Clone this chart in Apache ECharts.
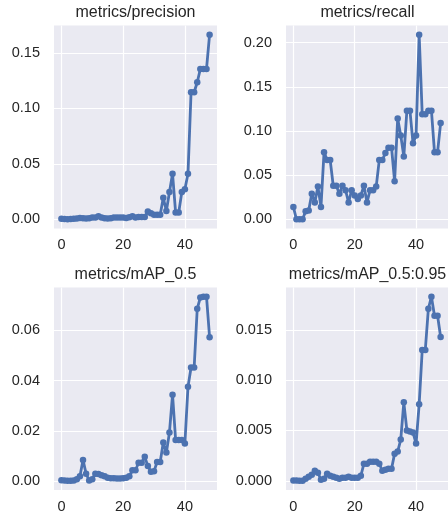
<!DOCTYPE html>
<html><head><meta charset="utf-8">
<script src="https://cdn.jsdelivr.net/npm/echarts@6/dist/echarts.min.js"></script>
<style>html,body{margin:0;padding:0;background:#fff}#c{width:448px;height:516px}</style>
</head><body><div id="c"></div>
<script>
const epochs = [0,1,2,3,4,5,6,7,8,9,10,11,12,13,14,15,16,17,18,19,20,21,22,23,24,25,26,27,28,29,30,31,32,33,34,35,36,37,38,39,40,41,42,43,44,45,46,47,48];
const precision = [0.0005,0.0002,0.0000,0.0002,0.0005,0.0008,0.0012,0.0010,0.0008,0.0010,
  0.0015,0.0015,0.0028,0.0015,0.0010,0.0008,0.0010,0.0015,0.0015,0.0015,
  0.0015,0.0012,0.0018,0.0028,0.0015,0.0020,0.0020,0.0020,0.0070,0.0055,
  0.0040,0.0040,0.0040,0.0194,0.0075,0.0246,0.0410,0.0060,0.0060,0.0246,
  0.0270,0.0410,0.1146,0.1146,0.1236,0.1356,0.1356,0.1356,0.1665];
const recall = [0.014,0.000,0.000,0.000,0.009,0.010,0.029,0.019,0.037,0.014,
  0.076,0.067,0.067,0.038,0.038,0.029,0.038,0.033,0.019,0.033,
  0.027,0.023,0.027,0.038,0.019,0.033,0.033,0.037,0.067,0.067,
  0.075,0.081,0.081,0.043,0.114,0.095,0.071,0.123,0.123,0.086,
  0.095,0.209,0.119,0.119,0.123,0.123,0.076,0.076,0.109];
const map50 = [0.0004,0.0003,0.0002,0.0002,0.0003,0.0008,0.0020,0.0085,0.0030,0.0003,
  0.0008,0.0030,0.0029,0.0024,0.0020,0.0014,0.0012,0.0012,0.0011,0.0011,
  0.0012,0.0014,0.0020,0.0044,0.0044,0.0074,0.0074,0.0097,0.0061,0.0038,
  0.0040,0.0077,0.0077,0.0154,0.0114,0.0194,0.0344,0.0164,0.0164,0.0164,
  0.0150,0.0375,0.0452,0.0452,0.0685,0.0730,0.0733,0.0733,0.0572];
const map5095 = [0.00003,0.00002,0.0000,0.0000,0.0002,0.0004,0.0006,0.0010,0.0008,0.0001,
  0.0002,0.0007,0.0005,0.0004,0.0003,0.0002,0.0003,0.0003,0.0004,0.0003,
  0.0003,0.0003,0.0005,0.0017,0.0017,0.0019,0.0019,0.0019,0.0017,0.0010,
  0.0011,0.0012,0.0012,0.0027,0.0029,0.0041,0.0078,0.0050,0.0049,0.0048,
  0.0037,0.0076,0.0130,0.0130,0.0171,0.0183,0.0164,0.0164,0.0143];
const titles = ['metrics/precision','metrics/recall','metrics/mAP_0.5','metrics/mAP_0.5:0.95'];
const xTicks = [0,20,40];
const yTicks = [[0,0.05,0.10,0.15],[0,0.05,0.10,0.15,0.20],[0,0.02,0.04,0.06],[0,0.005,0.010,0.015]];
const yDecimals = [2,2,2,3];

const series = [precision, recall, map50, map5095];
const grids = [
  {left:54, top:25.5, width:163, height:203},
  {left:286, top:25.5, width:163, height:203},
  {left:54, top:287.5, width:163, height:202.5},
  {left:286, top:287.5, width:163, height:202.5}
];
const FONT = '"Liberation Sans", Arial, sans-serif';
const TXT = '#262626';
const n = epochs.length;
const xMin = epochs[0] - 0.05*(epochs[n-1]-epochs[0]);
const xMax = epochs[n-1] + 0.05*(epochs[n-1]-epochs[0]);

const option = {
  animation:false,
  backgroundColor:'#ffffff',
  title: titles.map((t,i)=>({
    text:t, left: grids[i].left + grids[i].width/2, top: grids[i].top - 21,
    textAlign:'center', padding:0,
    textStyle:{fontFamily:FONT, fontSize:16, fontWeight:'normal', color:TXT}
  })),
  grid: grids.map(g=>Object.assign({show:true, backgroundColor:'#EAEAF2', borderWidth:0, containLabel:false}, g)),
  xAxis: grids.map((g,i)=>({
    type:'value', gridIndex:i, min:xMin, max:xMax,
    axisLine:{show:false}, axisTick:{show:false, customValues:xTicks},
    axisLabel:{customValues:xTicks, margin:9, fontFamily:FONT, fontSize:14.5, color:TXT},
    splitLine:{show:true, lineStyle:{color:'#ffffff', width:1.2}}
  })),
  yAxis: grids.map((g,i)=>{
    const d = series[i];
    const lo = Math.min(...d), hi = Math.max(...d), r = hi-lo;
    return {
      type:'value', gridIndex:i, min:lo-0.05*r, max:hi+0.05*r,
      axisLine:{show:false}, axisTick:{show:false, customValues:yTicks[i]},
      axisLabel:{customValues:yTicks[i], margin:14, fontFamily:FONT, fontSize:14.5, color:TXT,
        formatter:v=>Number(v).toFixed(yDecimals[i])},
      splitLine:{show:true, lineStyle:{color:'#ffffff', width:1.2}}
    };
  }),
  series: series.map((d,i)=>({
    type:'line', xAxisIndex:i, yAxisIndex:i,
    data: epochs.map((e,k)=>[e,d[k]]),
    symbol:'circle', symbolSize:6.5, showSymbol:true,
    itemStyle:{color:'#4C72B0'},
    lineStyle:{color:'#4C72B0', width:2.8},
    clip:false
  }))
};
const chart = echarts.init(document.getElementById('c'), null, {renderer:'canvas'});
chart.setOption(option);
</script></body></html>
